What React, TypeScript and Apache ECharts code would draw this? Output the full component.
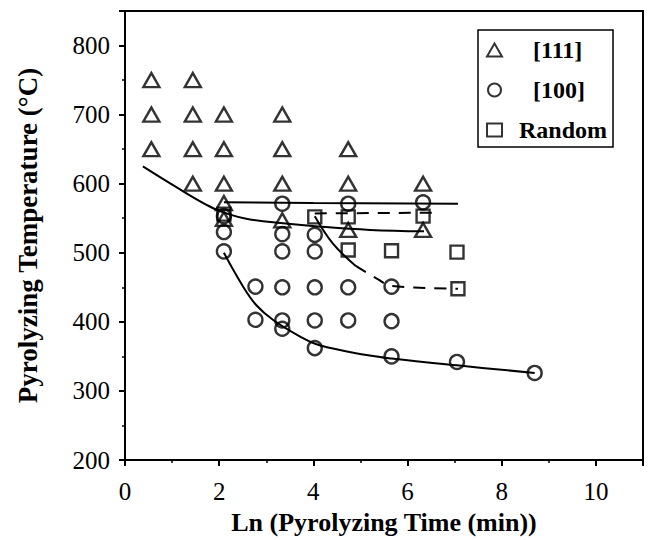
import React, { useEffect, useRef } from 'react';
import * as echarts from 'echarts';

// [111] orientation points (x = Ln time, y = temperature °C)
const tri111: number[][] = [
  [0.56, 750], [0.56, 700], [0.56, 650],
  [1.44, 750], [1.44, 700], [1.44, 650], [1.44, 600],
  [2.1, 700], [2.1, 650], [2.1, 600], [2.1, 572], [2.1, 549],
  [3.34, 700], [3.34, 650], [3.34, 600], [3.34, 547],
  [4.74, 650], [4.74, 600], [4.74, 533],
  [6.33, 600], [6.33, 533],
];

// [100] orientation points
const circ100: number[][] = [
  [2.1, 553], [2.1, 530], [2.1, 502],
  [2.77, 451], [2.77, 403],
  [3.34, 571], [3.34, 527], [3.34, 502], [3.34, 450], [3.34, 402], [3.34, 390],
  [4.03, 526], [4.03, 502], [4.03, 450], [4.03, 402], [4.03, 362],
  [4.74, 571], [4.74, 450], [4.74, 402],
  [5.66, 451], [5.66, 401], [5.66, 350],
  [6.33, 573],
  [7.05, 342],
  [8.7, 326],
];

// Random orientation points
const sqRandom: number[][] = [
  [2.1, 556], [4.03, 552], [4.74, 552], [4.74, 504],
  [5.66, 503], [6.33, 553], [7.05, 501], [7.07, 448],
];

// boundary curves
const lineTop: number[][] = [[2.1, 573], [4.0, 572], [7.07, 571]];
const lineMid: number[][] = [
  [0.38, 625], [1.09, 595], [1.8, 567], [2.2, 556], [2.6, 549], [3.3, 543], [4.1, 538], [5.2, 533], [6.35, 531],
];
const lineLow: number[][] = [
  [2.1, 500], [2.5, 452], [2.79, 424], [3.14, 403], [3.71, 379], [4.13, 366],
  [5.13, 352], [5.66, 347], [7.05, 337], [8.7, 326],
];
const randomSolid: number[][] = [[4.03, 553], [4.42, 513], [4.9, 481]];
const randomDashed: number[][] = [[4.9, 481], [5.34, 463], [5.66, 452], [7.07, 448]];
const randomTop: number[][] = [[4.03, 557], [6.64, 558]];

const FONT = "'Liberation Serif', 'Times New Roman', serif";

export default function App() {
  const ref = useRef<HTMLDivElement>(null);
  useEffect(() => {
    const chart = echarts.init(ref.current!, undefined, { renderer: 'svg' });
    const lineBase = {
      type: 'line',
      symbol: 'none',
      showSymbol: false,
      silent: true,
      z: 1,
    };
    const pointStyle = { color: 'transparent', borderColor: '#000', borderWidth: 2.4 };
    chart.setOption({
      animation: false,
      backgroundColor: '#fff',
      grid: {
        left: 125, right: 6, top: 11, bottom: 80,
        outerBoundsMode: 'none',
        containLabel: false,
        show: true, borderColor: '#000', borderWidth: 2, backgroundColor: 'transparent',
      },
      legend: {
        data: ['[111]', '[100]', 'Random'],
        orient: 'vertical',
        left: 478,
        top: 30,
        padding: [8, 6, 5, 8],
        itemGap: 16,
        itemWidth: 15,
        itemHeight: 13,
        borderColor: '#000',
        borderWidth: 1.5,
        borderRadius: 0,
        formatter: (name: string) => (name === 'Random' ? `{r|${name}}` : `{p|${name}}`),
        textStyle: {
          fontFamily: FONT, fontWeight: 'bold', fontSize: 24, color: '#000',
          rich: {
            p: { fontFamily: FONT, fontWeight: 'bold', fontSize: 24, color: '#000', padding: [0, 8, 0, 26] },
            r: { fontFamily: FONT, fontWeight: 'bold', fontSize: 24, color: '#000', padding: [0, 0, 0, 12] },
          },
        },
      },
      xAxis: {
        type: 'value',
        min: 0, max: 11, interval: 2,
        name: 'Ln (Pyrolyzing Time (min))',
        nameLocation: 'middle',
        nameGap: 49,
        nameTextStyle: { fontFamily: FONT, fontWeight: 'bold', fontSize: 26, color: '#000' },
        axisLine: { onZero: false, lineStyle: { color: '#000', width: 2 } },
        axisTick: { length: 6, lineStyle: { color: '#000', width: 2 } },
        minorTick: { show: true, splitNumber: 2, length: 3, lineStyle: { color: '#000', width: 1.5 } },
        splitLine: { show: false },
        axisLabel: { fontFamily: FONT, fontSize: 25, color: '#000', margin: 19, showMaxLabel: false },
      },
      yAxis: {
        type: 'value',
        min: 200, max: 850, interval: 100,
        name: 'Pyrolyzing Temperature (°C)',
        nameLocation: 'middle',
        nameGap: 84,
        nameTextStyle: { fontFamily: FONT, fontWeight: 'bold', fontSize: 27, color: '#000' },
        axisLine: { onZero: false, lineStyle: { color: '#000', width: 2 } },
        axisTick: { length: 6, lineStyle: { color: '#000', width: 2 } },
        minorTick: { show: true, splitNumber: 2, length: 3, lineStyle: { color: '#000', width: 1.5 } },
        splitLine: { show: false },
        axisLabel: { fontFamily: FONT, fontSize: 25, color: '#000', margin: 15, showMaxLabel: false },
      },
      series: [
        { ...lineBase, name: 'top', data: lineTop, lineStyle: { color: '#000', width: 2 } },
        { ...lineBase, name: 'mid', data: lineMid, smooth: 0.4, lineStyle: { color: '#000', width: 2 } },
        { ...lineBase, name: 'low', data: lineLow, smooth: 0.4, lineStyle: { color: '#000', width: 2 } },
        { ...lineBase, name: 'rs', data: randomSolid, smooth: 0.4, lineStyle: { color: '#000', width: 2 } },
        { ...lineBase, name: 'rd', data: randomDashed, smooth: 0.4, lineStyle: { color: '#000', width: 2, type: [12, 9] } },
        { ...lineBase, name: 'rt', data: randomTop, lineStyle: { color: '#000', width: 2, type: [12, 9] } },
        {
          type: 'scatter', name: '[111]', data: tri111, symbol: 'triangle', symbolSize: [16, 14],
          itemStyle: pointStyle, z: 3,
        },
        {
          type: 'scatter', name: '[100]', data: circ100, symbol: 'circle', symbolSize: 14,
          itemStyle: pointStyle, z: 3,
        },
        {
          type: 'scatter', name: 'Random', data: sqRandom, symbol: 'rect', symbolSize: 13,
          itemStyle: pointStyle, z: 3,
        },
      ],
    });
    return () => chart.dispose();
  }, []);
  return (
    <div
      ref={ref}
      style={{ position: 'absolute', left: 0, top: 0, width: 649, height: 540, background: '#fff' }}
    />
  );
}
